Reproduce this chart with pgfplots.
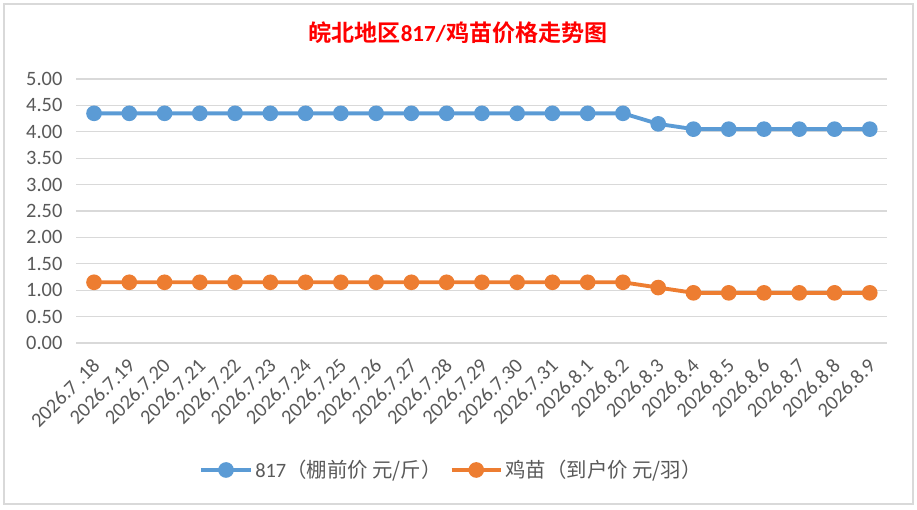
\documentclass[border=0pt]{standalone}
\usepackage{fontspec}
\setmainfont{Carlito}
\newfontfamily\cjk{Noto Sans CJK SC}
\newfontfamily\cjkb{Noto Sans CJK SC Bold}
\usepackage{pgfplots}
\pgfplotsset{compat=1.18}
\definecolor{sblue}{HTML}{5B9BD5}
\definecolor{sorange}{HTML}{ED7D31}
\definecolor{gridgray}{HTML}{D9D9D9}
\definecolor{txtgray}{HTML}{595959}
\begin{document}
\begin{tikzpicture}
\begin{axis}[
  at={(57.3pt,125.25pt)}, anchor=south west,
  scale only axis, width=608.25pt, height=198pt,
  xmin=-0.5, xmax=22.5, ymin=0, ymax=5,
  ytick={0,0.5,1,1.5,2,2.5,3,3.5,4,4.5,5},
  xtick={0,...,22},
  xticklabels={2026.7 .18,2026.7.19,2026.7.20,2026.7.21,2026.7.22,2026.7.23,2026.7.24,2026.7.25,2026.7.26,2026.7.27,2026.7.28,2026.7.29,2026.7.30,2026.7.31,2026.8.1,2026.8.2,2026.8.3,2026.8.4,2026.8.5,2026.8.6,2026.8.7,2026.8.8,2026.8.9},
  axis line style={draw=none},
  major tick style={draw=none},
  ymajorgrids, grid style={color=gridgray, line width=0.9pt},
  /pgf/number format/assume math mode=true,
  yticklabel={\pgfmathprintnumber[fixed,fixed zerofill,precision=2]{\tick}},
  ticklabel style={font=\fontsize{15.3}{17}\selectfont, text=txtgray},
  yticklabel style={xshift=-7pt},
  xticklabel style={xshift=4pt, yshift=-12pt, rotate=45, anchor=east},
  legend style={at={(0.463,-0.481)}, anchor=center, draw=none, fill=none,
    legend columns=2, font=\fontsize{15.3}{17}\selectfont, text=txtgray,
    /tikz/every even column/.append style={column sep=4pt}},
  legend image code/.code={\draw[mark repeat=2,mark phase=2] plot coordinates {(0cm,0cm) (0.65cm,0cm) (1.3cm,0cm)};},
  legend cell align=left,
]
\addplot[color=sblue, line width=2.9pt, mark=*, mark size=4.4pt, mark options={solid, fill=sblue, draw=sblue}] coordinates {
(0,4.35) (1,4.35) (2,4.35) (3,4.35) (4,4.35) (5,4.35) (6,4.35) (7,4.35) (8,4.35) (9,4.35) (10,4.35) (11,4.35) (12,4.35) (13,4.35) (14,4.35) (15,4.35) (16,4.15) (17,4.05) (18,4.05) (19,4.05) (20,4.05) (21,4.05) (22,4.05)};
\addlegendentry{817{\cjk（棚前价 元/斤）}}
\addplot[color=sorange, line width=2.9pt, mark=*, mark size=4.4pt, mark options={solid, fill=sorange, draw=sorange}] coordinates {
(0,1.15) (1,1.15) (2,1.15) (3,1.15) (4,1.15) (5,1.15) (6,1.15) (7,1.15) (8,1.15) (9,1.15) (10,1.15) (11,1.15) (12,1.15) (13,1.15) (14,1.15) (15,1.15) (16,1.05) (17,0.95) (18,0.95) (19,0.95) (20,0.95) (21,0.95) (22,0.95)};
\addlegendentry{{\cjk 鸡苗（到户价 元/羽）}}
\end{axis}
\node[text=red, font=\fontsize{17.3}{20}\selectfont] at (343.5pt,357.75pt) {{\cjkb 皖北地区}\textbf{817/}{\cjkb 鸡苗价格走势图}};
\pgfresetboundingbox
\draw[gridgray, line width=0.9pt] (3pt,4.5pt) rectangle (684.75pt,379.5pt);
\path (0,0) rectangle (687.75pt,382.5pt);
\end{tikzpicture}
\end{document}
